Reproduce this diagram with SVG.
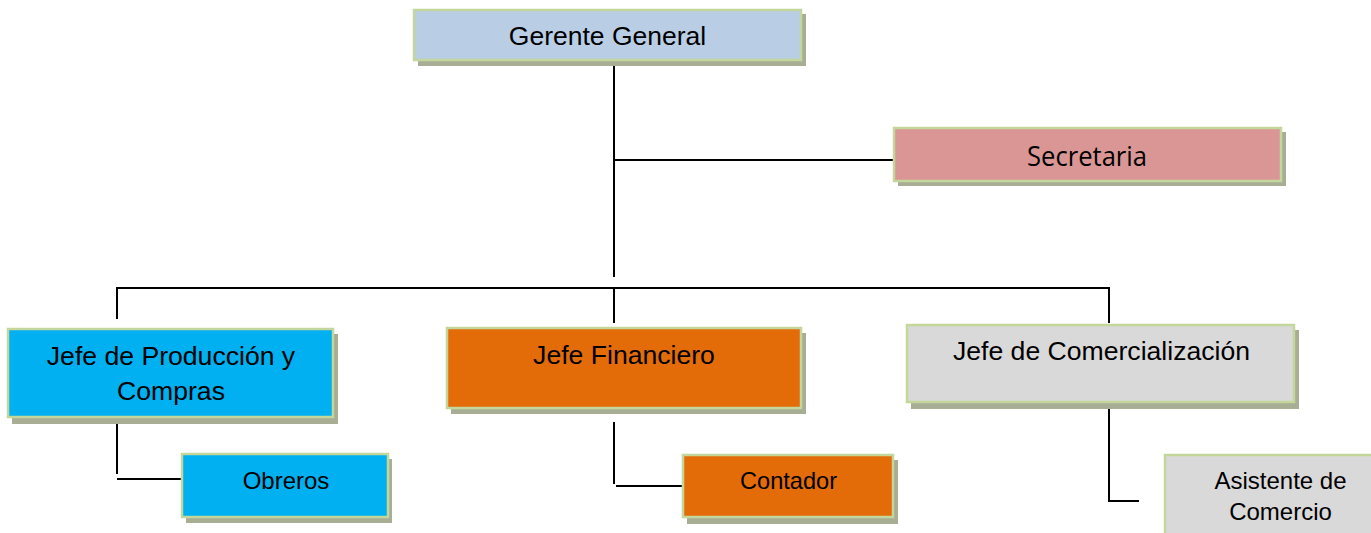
<svg xmlns="http://www.w3.org/2000/svg" width="1371" height="533" viewBox="0 0 1371 533">
<style>
.sh{fill:#a7ae94}
.bx{stroke:#c3d69b;stroke-width:2.5}
.t{font-family:"Liberation Sans",Arial,sans-serif;fill:#000;text-anchor:middle}
.c{font-family:"Open Sans","Liberation Sans",sans-serif;fill:#000;text-anchor:middle}
.ln{stroke:#000;stroke-width:2;fill:none}
</style>
<rect width="1371" height="533" fill="#fff"/>
<g id="connectors">
<path class="ln" d="M614 61V277"/>
<path class="ln" d="M614 160H893"/>
<path class="ln" d="M117 319V288H1109V323"/>
<path class="ln" d="M614 288V323"/>
<path class="ln" d="M117 414V474"/>
<path class="ln" d="M117 479H182"/>
<path class="ln" d="M614 422V484"/>
<path class="ln" d="M616 486H683"/>
<path class="ln" d="M1109 407V501H1139"/>
</g>
<g id="gerente">
<rect class="sh" x="418" y="14" width="388" height="52"/>
<rect class="bx" x="414" y="10" width="387" height="50" fill="#b9cde5"/>
<text class="t" x="607.5" y="45" font-size="26.5">Gerente General</text>
</g>
<g id="secretaria">
<rect class="sh" x="898" y="132" width="388" height="54"/>
<rect class="bx" x="894" y="128" width="387" height="53" fill="#d99694"/>
<text class="c" x="1087" y="166" font-size="27" textLength="120" lengthAdjust="spacingAndGlyphs">Secretaria</text>
</g>
<g id="produccion">
<rect class="sh" x="12" y="334" width="326" height="90"/>
<rect class="bx" x="8" y="329" width="325" height="88" fill="#00b0f0"/>
<text class="t" x="171" y="365" font-size="26.6">Jefe de Producción y</text>
<text class="t" x="171" y="400" font-size="26.6">Compras</text>
</g>
<g id="financiero">
<rect class="sh" x="451" y="333" width="355" height="81"/>
<rect class="bx" x="447" y="328" width="354" height="80" fill="#e36c09"/>
<text class="t" x="624" y="364" font-size="26.6">Jefe Financiero</text>
</g>
<g id="comercializacion">
<rect class="sh" x="911" y="330" width="388" height="79"/>
<rect class="bx" x="907" y="325" width="387" height="77" fill="#d9d9d9"/>
<text class="t" x="1101.5" y="360" font-size="26.6">Jefe de Comercialización</text>
</g>
<g id="obreros">
<rect class="sh" x="186" y="459" width="206" height="64"/>
<rect class="bx" x="182" y="454" width="206" height="63" fill="#00b0f0"/>
<text class="t" x="286" y="489" font-size="24">Obreros</text>
</g>
<g id="contador">
<rect class="sh" x="687" y="460" width="211" height="64"/>
<rect class="bx" x="683" y="455" width="210" height="62" fill="#e36c09"/>
<text class="t" x="788.5" y="489" font-size="23.6">Contador</text>
</g>
<g id="asistente">
<rect class="sh" x="1169" y="460" width="210" height="80"/>
<rect class="bx" x="1165" y="455" width="210" height="82" fill="#d9d9d9"/>
<text class="t" x="1280.5" y="489" font-size="24">Asistente de</text>
<text class="t" x="1280.5" y="520" font-size="24">Comercio</text>
</g>
</svg>
